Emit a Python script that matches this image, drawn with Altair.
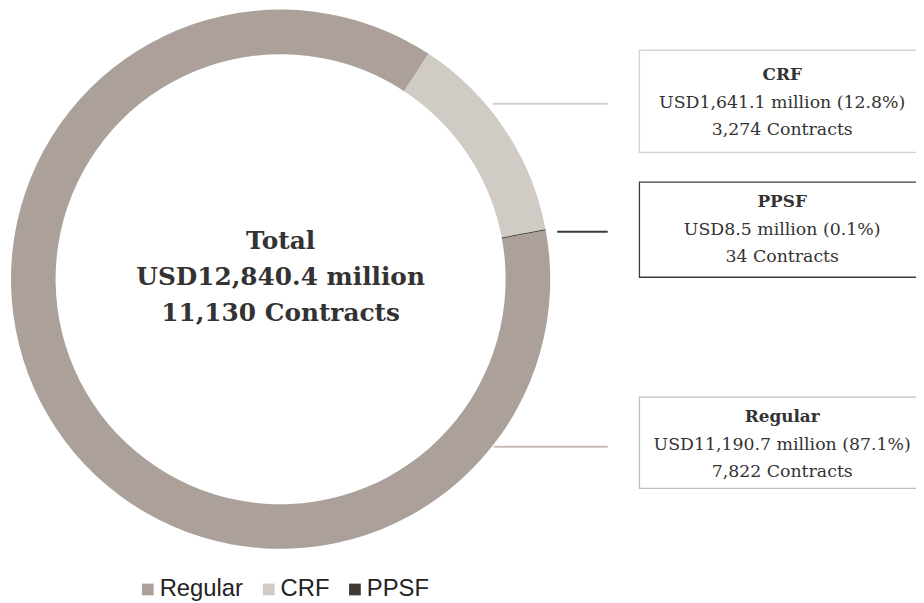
import altair as alt
import pandas as pd
import math

# ---- data ----
segments = ["Regular", "CRF", "PPSF"]
amounts_musd = [11190.7, 1641.1, 8.5]
shares_pct = [87.1, 12.8, 0.1]
contracts = [7822, 3274, 34]
stack_order = [3, 1, 2]   # CRF first (from the top-right), then PPSF, then Regular
colors = ["#ACA19A", "#D1CBC6", "#3F3A36"]

total_label = ["Total", "USD12,840.4 million", "11,130 Contracts"]

df = pd.DataFrame({
    "segment": segments,
    "amount": amounts_musd,
    "share": shares_pct,
    "contracts": contracts,
    "order": stack_order,
})

# ---- layout (pixels in chart coordinates) ----
W, H = 916, 594
CX, CY = 275, 271
R_OUT, R_IN = 272, 227
START = math.radians(33.3)
SERIF = "DejaVu Serif"
SANS = "Liberation Sans"

color_scale = alt.Scale(domain=segments, range=colors)

donut = alt.Chart(df).mark_arc(radius=R_OUT, radius2=R_IN, strokeWidth=0).encode(
    theta=alt.Theta("amount:Q", stack=True,
                    scale=alt.Scale(range=[START, START + 2 * math.pi])),
    order=alt.Order("order:Q"),
    color=alt.Color("segment:N", scale=color_scale,
                    legend=alt.Legend(orient="none", legendX=129, legendY=572,
                                      direction="horizontal", title=None,
                                      symbolType="square", symbolSize=140,
                                      symbolStrokeWidth=0,
                                      labelFont=SANS, labelFontSize=24,
                                      labelColor="#222222", columnPadding=13,
                                      labelOffset=0)),
    x=alt.value(CX), y=alt.value(CY),
)

layers = [donut]

# centre text
for i, line in enumerate(total_label):
    layers.append(
        alt.Chart(pd.DataFrame({"t": [line]})).mark_text(
            font=SERIF, fontSize=25, fontWeight="bold", color="#333333",
            align="center", baseline="middle"
        ).encode(text="t:N", x=alt.value(CX), y=alt.value(233 + i * 36))
    )

# annotation boxes and leader lines
boxes = {
    "CRF":     dict(top=40,  bottom=143, ty=65,  line_y=94,  lx1=489, color="#D6D0CB", border="#D6D0CB"),
    "PPSF":    dict(top=173, bottom=269, ty=193, line_y=223, lx1=554, color="#3F3A36", border="#3F3A36"),
    "Regular": dict(top=390, bottom=482, ty=410, line_y=440, lx1=490, color="#C6BDB7", border="#C6BDB7"),
}
BOX_L, BOX_R, TEXT_X, LINE_X2 = 637, 930, 781, 605

for seg, amt, sh, ct in zip(segments, amounts_musd, shares_pct, contracts):
    b = boxes[seg]
    one = pd.DataFrame({
        "title": [seg],
        "line2": [f"USD{amt:,.1f} million ({sh}%)"],
        "line3": [f"{ct:,} Contracts"],
    })
    base = alt.Chart(one)
    layers.append(base.mark_rect(fill="white", stroke=b["border"], strokeWidth=1.3).encode(
        x=alt.value(BOX_L), x2=alt.value(BOX_R), y=alt.value(b["top"]), y2=alt.value(b["bottom"])))
    layers.append(base.mark_rule(color=b["color"], strokeWidth=2).encode(
        x=alt.value(b["lx1"]), x2=alt.value(LINE_X2), y=alt.value(b["line_y"])))
    layers.append(base.mark_text(font=SERIF, fontSize=17, fontWeight="bold", color="#333333",
                                 align="center", baseline="middle").encode(
        text="title:N", x=alt.value(TEXT_X), y=alt.value(b["ty"])))
    layers.append(base.mark_text(font=SERIF, fontSize=17.5, color="#333333",
                                 align="center", baseline="middle").encode(
        text="line2:N", x=alt.value(TEXT_X), y=alt.value(b["ty"] + 28)))
    layers.append(base.mark_text(font=SERIF, fontSize=17.5, color="#333333",
                                 align="center", baseline="middle").encode(
        text="line3:N", x=alt.value(TEXT_X), y=alt.value(b["ty"] + 56)))

chart = alt.layer(*layers).properties(
    width=W, height=H, autosize=alt.AutoSizeParams(type="none"), padding=0,
    background="white"
).configure_view(strokeWidth=0, stroke="transparent")

chart.save("out.html", embed_options={"renderer": "svg", "actions": False})
